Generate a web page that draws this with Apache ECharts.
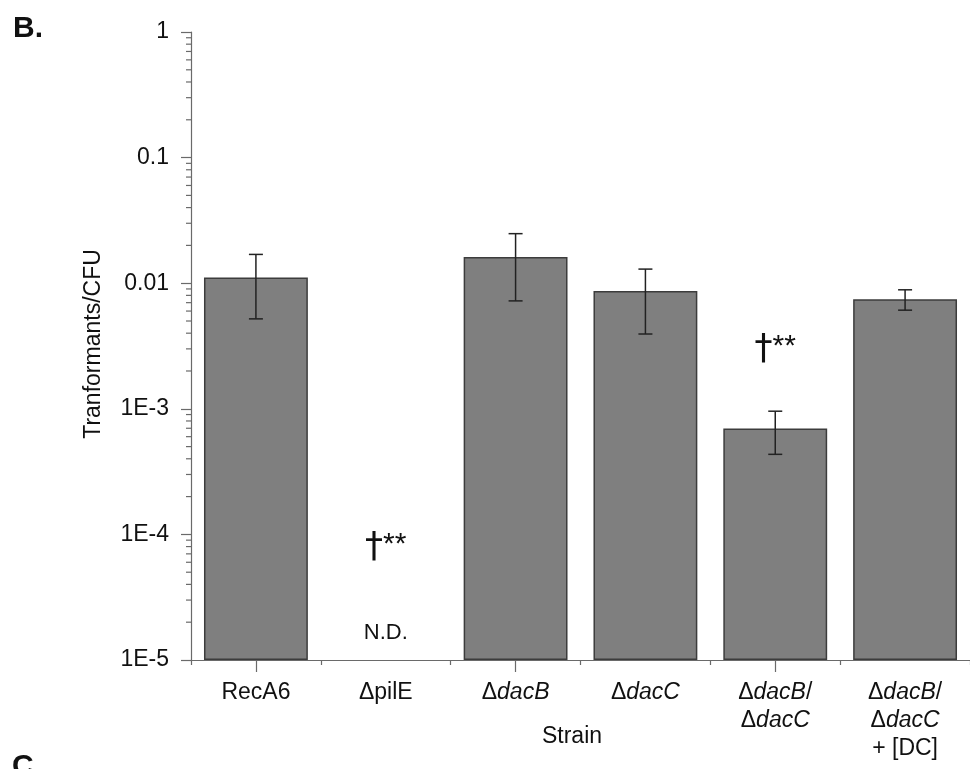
<!DOCTYPE html>
<html>
<head>
<meta charset="utf-8">
<title>Transformation frequency by strain</title>
<script src="https://cdn.jsdelivr.net/npm/echarts@6/dist/echarts.min.js"></script>
<style>
  html, body { margin: 0; padding: 0; background: #fff; }
  #chart { width: 970px; height: 769px; }
</style>
</head>
<body>
<div id="chart"></div>
<script>
// Strains on the x axis
const categories = ['RecA6', 'ΔpilE', 'ΔdacB', 'ΔdacC', 'ΔdacB/ΔdacC', 'ΔdacB/ΔdacC + [DC]'];
// Axis labels (gene names set in italics)
const categoryLabels = [
  '{n|RecA6}',
  '{n|ΔpilE}',
  '{n|Δ}{i|dacB}',
  '{n|Δ}{i|dacC}',
  '{n|Δ}{i|dacB}{n|/}\n{n|Δ}{i|dacC}',
  '{n|Δ}{i|dacB}{n|/}\n{n|Δ}{i|dacC}\n{n|+ [DC]}'
];
// Mean transformants per CFU (ΔpilE not detected)
const means   = [0.0111, null, 0.0162, 0.00865, 0.000696, 0.00746];
// Error bar limits
const errLow  = [0.0052, null, 0.00723, 0.00394, 0.000434, 0.0061];
const errHigh = [0.01695, null, 0.0248, 0.01295, 0.000957, 0.00886];
// Log axis tick labels, 1E-5 .. 1
const yTickLabels = ['1E-5', '1E-4', '1E-3', '0.01', '0.1', '1'];
// Significance marks and the not-detected note: [category, value, rich text]
const notes = [
  [1, 7.9e-5, '{d|†}{s|**}'],
  [4, 2.95e-3, '{d|†}{s|**}'],
  [1, 1.65e-5, '{t|N.D.}']
];

const FONT = "'Liberation Sans', Arial, Helvetica, sans-serif";
const AXIS_COLOR = '#6a6a6a';

// Minor tick positions of the log axis (2..9 in every decade)
const minorTicks = [];
for (let d = -5; d < 0; d++) {
  for (let k = 2; k <= 9; k++) minorTicks.push([0, k * Math.pow(10, d)]);
}

const chart = echarts.init(document.getElementById('chart'), null, { renderer: 'canvas' });

const option = {
  backgroundColor: '#ffffff',
  animation: false,
  grid: { left: 191, top: 32, width: 780, height: 628, containLabel: false },
  xAxis: [
    {
      type: 'category',
      data: categories,
      position: 'bottom',
      axisLine: { show: true, lineStyle: { color: AXIS_COLOR, width: 1.2 } },
      axisTick: { show: true, alignWithLabel: false, length: 5, lineStyle: { color: AXIS_COLOR, width: 1.2 } },
      axisLabel: {
        show: true,
        interval: 0,
        margin: 19,
        fontFamily: FONT,
        fontSize: 23,
        lineHeight: 28,
        color: '#111',
        formatter: (v, i) => categoryLabels[i],
        rich: {
          n: { fontFamily: FONT, fontSize: 23, lineHeight: 28, color: '#111' },
          i: { fontFamily: FONT, fontSize: 23, lineHeight: 28, color: '#111', fontStyle: 'italic' }
        }
      },
      splitLine: { show: false }
    },
    {
      type: 'category',
      data: categories,
      position: 'bottom',
      axisLine: { show: false },
      axisTick: { show: true, alignWithLabel: true, length: 12, lineStyle: { color: AXIS_COLOR, width: 1.2 } },
      axisLabel: { show: false },
      splitLine: { show: false }
    }
  ],
  yAxis: {
    type: 'log',
    logBase: 10,
    min: 1e-5,
    max: 1,
    startValue: 1e-5,
    axisLine: { show: true, lineStyle: { color: AXIS_COLOR, width: 1.2 } },
    axisTick: { show: true, length: 10, lineStyle: { color: AXIS_COLOR, width: 1.2 } },
    axisLabel: {
      margin: 22,
      fontFamily: FONT,
      fontSize: 23,
      color: '#111',
      formatter: v => yTickLabels[Math.round(Math.log10(v)) + 5]
    },
    splitLine: { show: false }
  },
  series: [
    {
      name: 'Transformants/CFU',
      type: 'bar',
      xAxisIndex: 0,
      data: means,
      barCategoryGap: '20%',
      itemStyle: { color: '#7f7f7f', borderColor: '#3c3c3c', borderWidth: 1.5 },
      z: 2
    },
    {
      name: 'error',
      type: 'custom',
      xAxisIndex: 0,
      data: means.map((m, i) => m == null ? null : [i, errLow[i], errHigh[i]]).filter(d => d),
      encode: { x: 0, y: [1, 2] },
      renderItem: (params, api) => {
        const lo = api.coord([api.value(0), api.value(1)]);
        const hi = api.coord([api.value(0), api.value(2)]);
        const half = 7;
        const style = { stroke: '#222', lineWidth: 1.5 };
        return {
          type: 'group',
          children: [
            { type: 'line', shape: { x1: lo[0], y1: lo[1], x2: hi[0], y2: hi[1] }, style },
            { type: 'line', shape: { x1: hi[0] - half, y1: hi[1], x2: hi[0] + half, y2: hi[1] }, style },
            { type: 'line', shape: { x1: lo[0] - half, y1: lo[1], x2: lo[0] + half, y2: lo[1] }, style }
          ]
        };
      },
      z: 3
    },
    {
      name: 'minor ticks',
      type: 'custom',
      xAxisIndex: 0,
      data: minorTicks,
      encode: { x: 0, y: 1 },
      clip: false,
      silent: true,
      renderItem: (params, api) => {
        const p = api.coord([api.value(0), api.value(1)]);
        const x = params.coordSys.x;
        return {
          type: 'line',
          shape: { x1: x - 5, y1: p[1], x2: x, y2: p[1] },
          style: { stroke: AXIS_COLOR, lineWidth: 1.2 }
        };
      }
    },
    {
      name: 'notes',
      type: 'custom',
      xAxisIndex: 0,
      data: notes.map(n => [n[0], n[1]]),
      encode: { x: 0, y: 1 },
      silent: true,
      renderItem: (params, api) => {
        const item = notes[params.dataIndex];
        const p = api.coord([item[0], item[1]]);
        return {
          type: 'text',
          x: p[0],
          y: p[1],
          style: {
            text: item[2],
            fill: '#111',
            textAlign: 'center',
            textVerticalAlign: 'middle',
            rich: {
              d: { fontFamily: "'DejaVu Sans', sans-serif", fontSize: 36, fill: '#111', lineHeight: 36, verticalAlign: 'bottom' },
              s: { fontFamily: FONT, fontSize: 30, fill: '#111', lineHeight: 24, verticalAlign: 'top' },
              t: { fontFamily: FONT, fontSize: 22, fill: '#111' }
            }
          }
        };
      },
      z: 4
    }
  ],
  graphic: [
    {
      type: 'text', left: 13, top: 14,
      style: { text: 'B.', fontFamily: FONT, fontSize: 30, fontWeight: 'bold', fill: '#111' }
    },
    {
      type: 'text', x: 12, y: 752,
      style: { text: 'C.', fontFamily: FONT, fontSize: 30, fontWeight: 'bold', fill: '#111', textVerticalAlign: 'top' }
    },
    {
      type: 'text', x: 572, y: 737,
      style: { text: 'Strain', fontFamily: FONT, fontSize: 23, fill: '#111', textAlign: 'center', textVerticalAlign: 'middle' }
    },
    {
      type: 'text', x: 94, y: 344, rotation: Math.PI / 2,
      style: { text: 'Tranformants/CFU', fontFamily: FONT, fontSize: 23, fill: '#111', textAlign: 'center', textVerticalAlign: 'middle' }
    }
  ]
};

chart.setOption(option);
</script>
</body>
</html>
